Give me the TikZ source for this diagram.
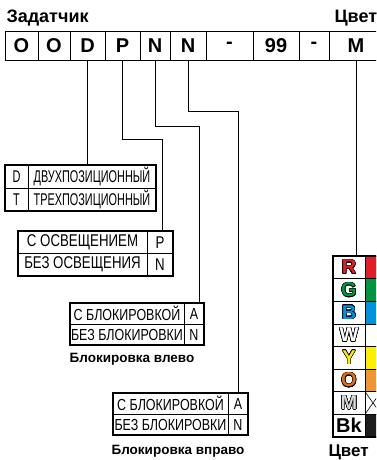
\documentclass[tikz,border=0pt]{standalone}
\usepackage{fontspec}
\setmainfont{Liberation Sans}
\newfontfamily\narrowfont[FakeStretch=0.64]{Liberation Sans}
\newfontfamily\condfont[FakeStretch=0.78]{Liberation Sans}
\usepackage[copies]{contour}
\contourlength{0.5pt}
\usetikzlibrary{positioning}

\definecolor{cred}{RGB}{226,30,36}
\definecolor{cgreen}{RGB}{0,150,64}
\definecolor{cblue}{RGB}{0,146,221}
\definecolor{cyellow}{RGB}{255,237,0}
\definecolor{corange}{RGB}{239,150,48}
\definecolor{corangetxt}{RGB}{222,112,20}
\definecolor{cgrey}{RGB}{215,215,215}
\definecolor{cblack}{RGB}{30,28,28}

\begin{document}
\begin{tikzpicture}[
    x=1pt, y=-1pt,
    cell/.style={draw, line width=0.6pt, outer sep=0pt, inner sep=0pt, minimum height=29pt, font=\bfseries\fontsize{20}{20}\selectfont},
    tcell/.style={draw, line width=0.5pt, outer sep=0pt, inner sep=0pt, minimum height=23pt, font=\narrowfont\fontsize{17}{17}\selectfont},
    bcell/.style={tcell, minimum height=22.5pt, font=\condfont\fontsize{17}{17}\selectfont},
    scell/.style={tcell, minimum height=21pt, font=\condfont\fontsize{16}{16}\selectfont},
    ccell/.style={draw, line width=0.5pt, outer sep=0pt, inner sep=0pt, minimum height=22.6pt, minimum width=32pt, font=\bfseries\fontsize{20}{20}\selectfont},
    frame/.style={line width=1.8pt},
    wire/.style={line width=0.6pt},
    title/.style={font=\bfseries\fontsize{18}{18}\selectfont},
    lbl/.style={font=\bfseries\fontsize{13.5}{14}\selectfont}
  ]
    \useasboundingbox (0,0) rectangle (376,460);
    \clip (0,0) rectangle (376,460);

    \node[title, anchor=west] (maintitle) at (3,18) {Задатчик};
    \node[title, anchor=west] (colortitle) at (331,18) {Цвет};

    \node[cell, minimum width=33pt, anchor=north west] (c1) at (5,31) {O};
    \node[cell, minimum width=32pt, right=0pt of c1] (c2) {O};
    \node[cell, minimum width=35pt, right=0pt of c2] (c3) {D};
    \node[cell, minimum width=35pt, right=0pt of c3] (c4) {P};
    \node[cell, minimum width=30pt, right=0pt of c4] (c5) {N};
    \node[cell, minimum width=36pt, right=0pt of c5] (c6) {N};
    \node[cell, minimum width=47pt, right=0pt of c6] (c7) {-};
    \node[cell, minimum width=46pt, right=0pt of c7] (c8) {99};
    \node[cell, minimum width=30pt, right=0pt of c8] (c9) {-};
    \node[cell, minimum width=54pt, right=0pt of c9] (c10) {M};

    \node[tcell, minimum width=23pt, anchor=north west] (aD) at (5,165) {D};
    \node[tcell, minimum width=128pt, right=0pt of aD] (aDtext) {ДВУХПОЗИЦИОННЫЙ};
    \node[tcell, minimum width=23pt, below=0pt of aD] (aT) {T};
    \node[tcell, minimum width=128pt, right=0pt of aT] (aTtext) {ТРЕХПОЗИЦИОННЫЙ};
    \draw[frame] (aD.north west) rectangle (aTtext.south east);

    \node[bcell, minimum width=129pt, anchor=north west] (bPtext) at (18,231) {С ОСВЕЩЕНИЕМ};
    \node[bcell, minimum width=26pt, right=0pt of bPtext] (bP) {P};
    \node[bcell, minimum width=129pt, below=0pt of bPtext] (bNtext) {БЕЗ ОСВЕЩЕНИЯ};
    \node[bcell, minimum width=26pt, right=0pt of bNtext] (bN) {N};
    \draw[frame] (bPtext.north west) rectangle (bN.south east);

    \node[scell, minimum width=114pt, anchor=north west] (cAtext) at (70,303) {С БЛОКИРОВКОЙ};
    \node[scell, minimum width=20pt, right=0pt of cAtext] (cA) {A};
    \node[scell, minimum width=114pt, below=0pt of cAtext] (cNtext) {БЕЗ БЛОКИРОВКИ};
    \node[scell, minimum width=20pt, right=0pt of cNtext] (cN) {N};
    \draw[frame] (cAtext.north west) rectangle (cN.south east);
    \node[lbl] (lblleft) at (132,359) {Блокировка влево};

    \node[scell, minimum width=115pt, anchor=north west] (dAtext) at (113,393) {С БЛОКИРОВКОЙ};
    \node[scell, minimum width=20pt, right=0pt of dAtext] (dA) {A};
    \node[scell, minimum width=115pt, below=0pt of dAtext] (dNtext) {БЕЗ БЛОКИРОВКИ};
    \node[scell, minimum width=20pt, right=0pt of dNtext] (dN) {N};
    \draw[frame] (dAtext.north west) rectangle (dN.south east);
    \node[lbl] (lblright) at (178,451) {Блокировка вправо};

    \foreach \txt/\fillc [count=\i from 0] in {%
        {\contour{black}{\textcolor{cred}{R}}}/cred,
        {\contour{black}{\textcolor{cgreen}{G}}}/cgreen,
        {\contour{black}{\textcolor{cblue}{B}}}/cblue,
        {\contour{black}{\textcolor{white}{W}}}/white,
        {\contour{black}{\textcolor{cyellow}{Y}}}/cyellow,
        {\contour{black}{\textcolor{corangetxt}{O}}}/corange,
        {\contour{black}{\textcolor{cgrey}{M}}}/white,
        {Bk}/cblack} {
      \node[ccell, anchor=north west] (let\i) at (333,256+\i*22.6) {\txt};
      \node[ccell, minimum width=16pt, fill=\fillc, right=0pt of let\i] (col\i) {};
    }
    \draw[wire] (col6.north west) -- (col6.south east) (col6.south west) -- (col6.north east);
    \draw[frame] (let0.north west) rectangle (col7.south east);
    \node[title, font=\bfseries\fontsize{17}{17}\selectfont, anchor=west] (lblcolor) at (325,452) {Цвет};

    \draw[wire] (c3.south) -- (c3.south |- aDtext.north);
    \draw[wire] (c4.south) -- ++(0,79) -| ([xshift=2pt]bP.north);
    \draw[wire] (c5.south) -- ++(0,66) -| ([xshift=5pt]cA.north);
    \draw[wire] (c6.south) -- ++(0,51) -| (dA.north);
    \draw[wire] (c10.south) -- (c10.south |- let0.north);
  \end{tikzpicture}
\end{document}
